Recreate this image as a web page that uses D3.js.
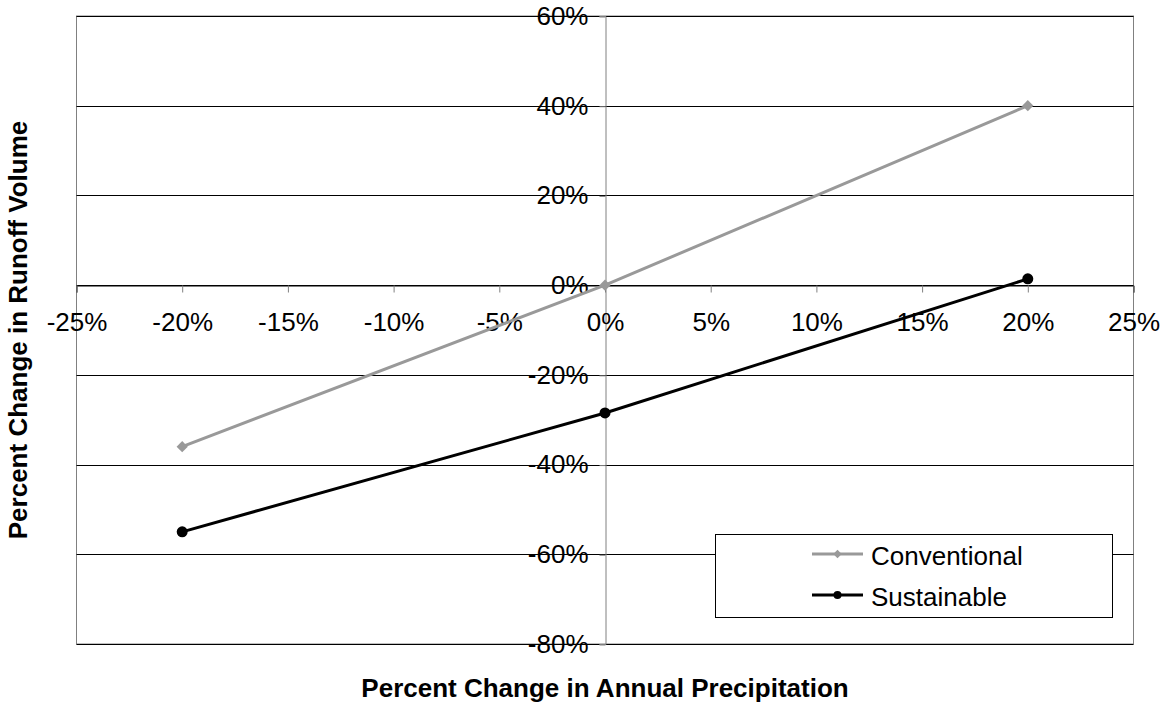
<!DOCTYPE html>
<html>
<head>
<meta charset="utf-8">
<script src="https://cdn.jsdelivr.net/npm/d3@7"></script>
<style>
  html, body { margin: 0; padding: 0; background: #fff; }
  svg { display: block; font-family: Arial, "Liberation Sans", sans-serif; }
</style>
</head>
<body>
<svg id="chart" width="1169" height="707"></svg>
<script>
// Precipitation change scenarios (x) and runoff volume change (y), in percent
const precipChange = [-20, 0, 20];
const conventional = [-36, 0, 40];
const sustainable = [-55, -28.5, 1.4];
const seriesNames = ["Conventional", "Sustainable"];
const xTicks = [-25, -20, -15, -10, -5, 0, 5, 10, 15, 20, 25];
const yTicks = [60, 40, 20, 0, -20, -40, -60, -80];

const svg = d3.select("#chart");
const plot = { left: 76.5, right: 1133.5, top: 16, bottom: 644 };

const x = d3.scaleLinear().domain([-25, 25]).range([plot.left, plot.right]);
const y = d3.scaleLinear().domain([-80, 60]).range([plot.bottom, plot.top]);
const fmt = d => d + "%";

// plot area frame
svg.append("rect")
  .attr("x", plot.left).attr("y", plot.top)
  .attr("width", plot.right - plot.left).attr("height", plot.bottom - plot.top)
  .attr("fill", "#fff").attr("stroke", "#808080").attr("stroke-width", 1);

// horizontal gridlines
svg.append("g").selectAll("line").data(yTicks).join("line")
  .attr("x1", plot.left).attr("x2", plot.right)
  .attr("y1", d => Math.round(y(d)) + 0.5).attr("y2", d => Math.round(y(d)) + 0.5)
  .attr("stroke", "#000").attr("stroke-width", 1);

// vertical axis through x = 0
const yAxis = svg.append("g")
  .attr("transform", `translate(${Math.round(x(0)) + 0.5},0)`)
  .call(d3.axisLeft(y).tickValues(yTicks).tickFormat(fmt).tickSize(6).tickPadding(11));
yAxis.select(".domain").attr("stroke", "#808080");
yAxis.selectAll(".tick line").attr("stroke", "#808080").attr("transform", "translate(0,0.5)");
yAxis.selectAll(".tick text").attr("font-size", 26).attr("fill", "#000")
  .attr("font-family", "Arial, 'Liberation Sans', sans-serif");

// horizontal axis through y = 0
const xAxis = svg.append("g")
  .attr("transform", `translate(0,${Math.round(y(0)) + 0.5})`)
  .call(d3.axisBottom(x).tickValues(xTicks).tickFormat(fmt).tickSize(7).tickPadding(0));
xAxis.select(".domain").attr("stroke", "#000");
xAxis.selectAll(".tick line").attr("stroke", "#808080");
xAxis.selectAll(".tick text").attr("font-size", 26).attr("fill", "#000")
  .attr("dy", null).attr("y", 45)
  .attr("font-family", "Arial, 'Liberation Sans', sans-serif");

// series
const series = [
  { name: seriesNames[0], values: conventional, color: "#999999", marker: "diamond" },
  { name: seriesNames[1], values: sustainable, color: "#000000", marker: "circle" }
];
const line = d3.line().x(d => x(d[0])).y(d => y(d[1]));
const diamond = d3.symbol().type(d3.symbolDiamond2).size(80);

series.forEach(s => {
  const pts = precipChange.map((p, i) => [p, s.values[i]]);
  svg.append("path").datum(pts)
    .attr("d", line).attr("fill", "none")
    .attr("stroke", s.color).attr("stroke-width", 3);
  const g = svg.append("g");
  if (s.marker === "diamond") {
    g.selectAll("path").data(pts).join("path")
      .attr("d", diamond)
      .attr("transform", d => `translate(${x(d[0])},${y(d[1])})`)
      .attr("fill", s.color);
  } else {
    g.selectAll("circle").data(pts).join("circle")
      .attr("cx", d => x(d[0])).attr("cy", d => y(d[1])).attr("r", 5.5)
      .attr("fill", s.color);
  }
});

// legend
const legend = svg.append("g");
legend.append("rect")
  .attr("x", 715.5).attr("y", 534.5).attr("width", 397).attr("height", 83)
  .attr("fill", "#fff").attr("stroke", "#000").attr("stroke-width", 1);
series.forEach((s, i) => {
  const cy = 554 + i * 41;
  legend.append("line")
    .attr("x1", 812).attr("x2", 863).attr("y1", cy).attr("y2", cy)
    .attr("stroke", s.color).attr("stroke-width", 3);
  if (s.marker === "diamond") {
    legend.append("path").attr("d", d3.symbol().type(d3.symbolDiamond2).size(45))
      .attr("transform", `translate(837.5,${cy})`).attr("fill", s.color);
  } else {
    legend.append("circle").attr("cx", 837.5).attr("cy", cy).attr("r", 4).attr("fill", s.color);
  }
  legend.append("text")
    .attr("x", 871).attr("y", cy + 11)
    .attr("font-size", 26).attr("fill", "#000")
    .text(s.name);
});

// axis titles
svg.append("text")
  .attr("x", (plot.left + plot.right) / 2).attr("y", 697)
  .attr("text-anchor", "middle").attr("font-size", 26).attr("font-weight", "bold")
  .text("Percent Change in Annual Precipitation");

svg.append("text")
  .attr("transform", `translate(27,${(plot.top + plot.bottom) / 2}) rotate(-90)`)
  .attr("text-anchor", "middle").attr("font-size", 26).attr("font-weight", "bold")
  .text("Percent Change in Runoff Volume");
</script>
</body>
</html>
